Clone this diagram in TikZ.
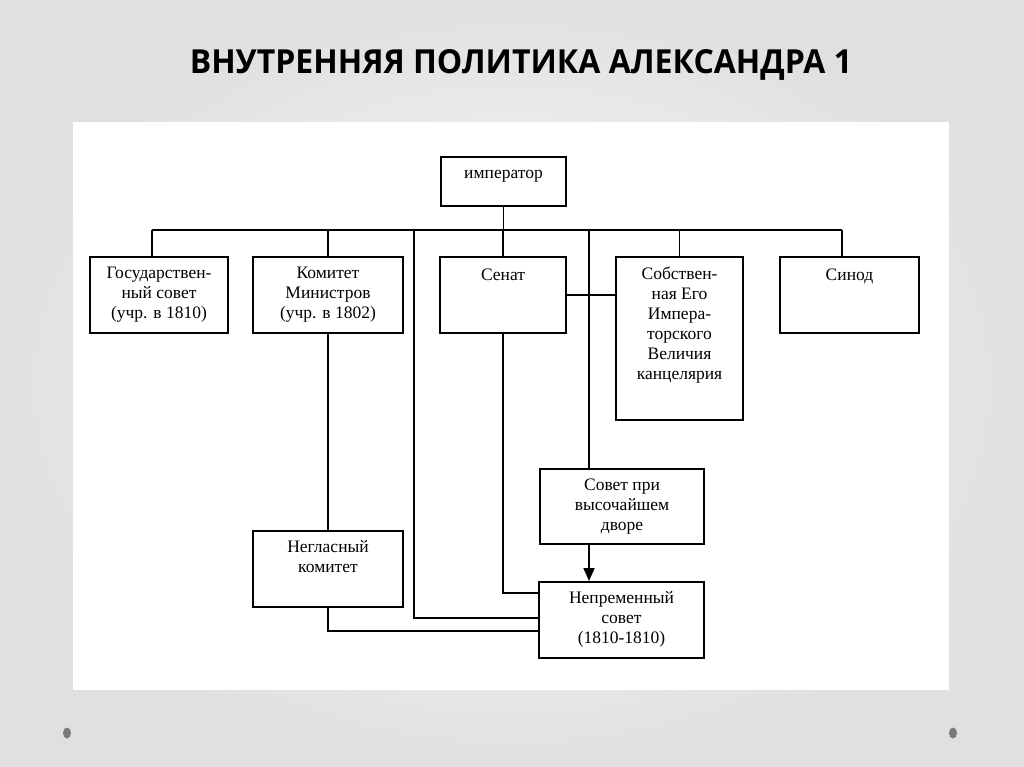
\documentclass[tikz,border=0pt]{standalone}
\usepackage{fontspec}
\setmainfont{Liberation Serif}
\newfontfamily\titlefont{Open Sans}
\usetikzlibrary{arrows.meta}
\tikzset{
  organ/.style={draw, line width=2pt, anchor=north west, inner sep=0pt},
  organtext/.style={anchor=north, align=center, inner sep=3pt, yshift=-7.5pt,
    font=\fontsize{17.5}{20}\selectfont, execute at begin node=\strut},
  link/.style={line width=1.8pt},
}
\begin{document}
\begin{tikzpicture}[x=1pt, y=-1pt]
                \useasboundingbox (0,0) rectangle (1024,767);
                % slide
                \shade[inner color=white, outer color=black!12] (0,0) rectangle (1024,767);
                \fill[white] (73,122) rectangle (949,690);
                \fill[black!52] (67,733) ellipse (4 and 5.5);
                \fill[black!52] (953,733) ellipse (4 and 5.5);
                \node[anchor=base] (title) at (521,74)
                  {\resizebox{662pt}{24pt}{\titlefont\bfseries ВНУТРЕННЯЯ ПОЛИТИКА АЛЕКСАНДРА 1}};
                % top level
                \node[organ, minimum width=125pt, minimum height=49pt,
                  label={[organtext, yshift=2pt]north:император}] (imp) at (440,156) {};
                \coordinate (busL) at (152,230);
                \coordinate (busR) at (842,230);
                % second level
                \node[organ, minimum width=138pt, minimum height=76pt,
                  label={[organtext]north:Государствен-\\ный совет\\(учр. в 1810)}] (gos) at (89,256) {};
                \node[organ, minimum width=150pt, minimum height=76pt,
                  label={[organtext]north:Комитет\\Министров\\(учр. в 1802)}] (kom) at (252,256) {};
                \node[organ, minimum width=126pt, minimum height=76pt,
                  label={[organtext]north:Сенат}] (senat) at (439,256) {};
                \node[organ, minimum width=127pt, minimum height=163pt,
                  label={[organtext]north:Собствен-\\ная Его\\Импера-\\торского\\Величия\\канцелярия}] (kanc) at (615,256) {};
                \node[organ, minimum width=139pt, minimum height=76pt,
                  label={[organtext]north:Синод}] (sinod) at (779,256) {};
                % lower level
                \node[organ, minimum width=164pt, minimum height=75pt,
                  label={[organtext]north:Совет при\\высочайшем\\дворе}] (dvor) at (539,468) {};
                \node[organ, minimum width=150pt, minimum height=76pt,
                  label={[organtext]north:Негласный\\комитет}] (neg) at (252,530) {};
                \node[organ, minimum width=165pt, minimum height=76pt,
                  label={[organtext]north:Непременный\\совет\\(1810-1810)}] (nepr) at (538,581) {};
                % bus
                \draw[link] (imp.south) -- (imp.south |- busL);
                \draw[link] (busL) -- (busR);
                \draw[link] (busL) -- (busL |- gos.north);
                \draw[link] (kom.north |- busL) -- (kom.north);
                \draw[link] (senat.north |- busL) -- (senat.north);
                \draw[link] (kanc.north |- busL) -- (kanc.north);
                \draw[link] (busR) -- (busR |- sinod.north);
                % links down
                \draw[link] (414,230) -- (414,618) -- (nepr.west |- 0,618);
                \draw[link] (589,230) -- (589,0 |- dvor.north);
                \draw[link] (senat.east) -- (senat.east -| kanc.west);
                \draw[link] (senat.south) -- (senat.south |- 0,593) -- (nepr.west |- 0,593);
                \draw[link] (kom.south) -- (kom.south |- neg.north);
                \draw[link] (neg.south) -- (neg.south |- 0,631) -- (nepr.west |- 0,631);
                \draw[link, -{Triangle[width=11pt, length=13pt]}] (589,0 |- dvor.south) -- (589,0 |- nepr.north);
\end{tikzpicture}
\end{document}
